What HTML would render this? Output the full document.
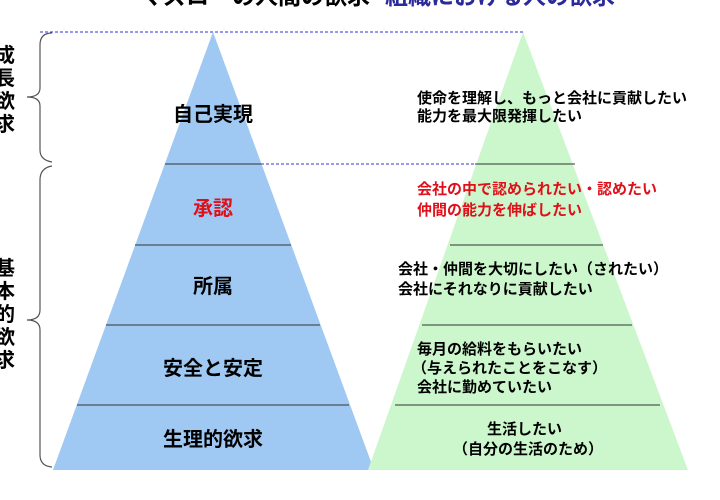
<!DOCTYPE html>
<html><head><meta charset="utf-8"><style>
body{margin:0;background:#fff;width:720px;height:495px;overflow:hidden}
svg text{font-family:"Liberation Sans","Noto Sans CJK JP",sans-serif;font-weight:bold}
</style></head><body>
<svg width="720" height="495" viewBox="0 0 720 495" xmlns="http://www.w3.org/2000/svg">
<text x="140" y="4" font-size="23" fill="#000">マズローの人間の欲求</text>
<text x="385" y="4" font-size="23" fill="#2a2a9a">組織における人の欲求</text>
<polygon points="213,32 53,470 374,470" fill="#9fc9f3"/>
<polygon points="523,32 368,470 688,470" fill="#ccf7cc"/>
<line x1="40" y1="32" x2="523" y2="32" stroke="#3333dd" stroke-dasharray="3,2" stroke-width="1"/>
<line x1="261" y1="164" x2="475" y2="164" stroke="#3333dd" stroke-dasharray="3,2" stroke-width="1"/>
<g stroke="#333" stroke-width="1">
<line x1="165" y1="164" x2="261" y2="164"/><line x1="475" y1="164" x2="575" y2="164"/>
<line x1="135" y1="245" x2="291" y2="245"/><line x1="450" y1="245" x2="603" y2="245"/>
<line x1="106" y1="325" x2="320" y2="325"/><line x1="422" y1="325" x2="632" y2="325"/>
<line x1="77" y1="405" x2="349" y2="405"/><line x1="395" y1="405" x2="660" y2="405"/>
</g>
<g fill="none" stroke="#555" stroke-width="1.2">
<path d="M52,33 Q40,33 40,45 L40,88 Q40,97 27,97 Q40,97 40,106 L40,150 Q40,160 52,162"/>
<path d="M52,166 Q40,168 40,180 L40,310 Q40,320 27,320 Q40,320 40,330 L40,455 Q40,466 52,467"/>
</g>
<g font-size="20" fill="#000">
<text x="-5" y="62">成</text><text x="-5" y="85">長</text><text x="-5" y="108">欲</text><text x="-5" y="131">求</text>
<text x="-5" y="275">基</text><text x="-5" y="298">本</text><text x="-5" y="321">的</text><text x="-5" y="344">欲</text><text x="-5" y="367">求</text>
</g>
<g font-size="20" text-anchor="middle">
<text x="213" y="121">自己実現</text>
<text x="213" y="215" fill="#e0101a">承認</text>
<text x="213" y="293">所属</text>
<text x="213" y="375">安全と安定</text>
<text x="213" y="446">生理的欲求</text>
</g>
<g font-size="15">
<text x="417" y="103">使命を理解し、もっと会社に貢献したい</text>
<text x="417" y="121">能力を最大限発揮したい</text>
<text x="417" y="194" fill="#e0101a">会社の中で認められたい・認めたい</text>
<text x="417" y="215" fill="#e0101a">仲間の能力を伸ばしたい</text>
<text x="398" y="274">会社・仲間を大切にしたい（されたい）</text>
<text x="398" y="294">会社にそれなりに貢献したい</text>
<text x="417" y="354">毎月の給料をもらいたい</text>
<text x="412" y="373">（与えられたことをこなす）</text>
<text x="417" y="392">会社に勤めていたい</text>
<text x="487" y="434">生活したい</text>
<text x="453" y="454">（自分の生活のため）</text>
</g>
</svg>
</body></html>
